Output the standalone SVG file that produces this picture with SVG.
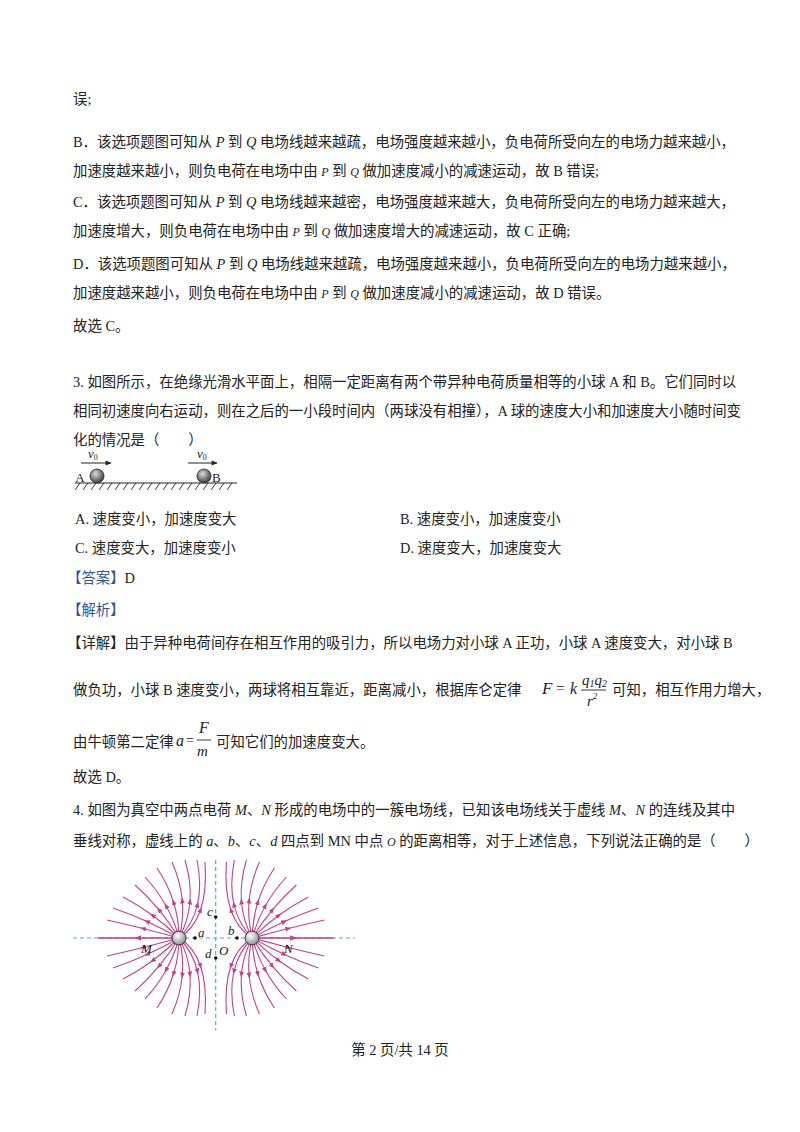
<svg xmlns="http://www.w3.org/2000/svg" xmlns:xlink="http://www.w3.org/1999/xlink" width="800" height="1132" viewBox="0 0 800 1132">
<style>
.t{font-family:"Liberation Serif","Noto Sans CJK SC",serif;font-size:14.4px;fill:#222}
.i{font-family:"Liberation Serif",serif;font-style:italic}
.blue{fill:#2f5597}
.fl{fill:none;stroke:#c2418a;stroke-width:1.1;marker-mid:url(#ah)}
.dash{stroke:#3bb8c8;stroke-width:1.2;stroke-dasharray:4,3}
.lab{font-family:"Liberation Serif",serif;font-style:italic;font-size:13px;fill:#222}
</style>
<defs>
<marker id="ah" viewBox="0 0 10 10" refX="5" refY="5" markerWidth="6" markerHeight="6" orient="auto" markerUnits="userSpaceOnUse"><path d="M0,1 L10,5 L0,9 z" fill="#c2418a"/></marker>
<marker id="arr" viewBox="0 0 10 10" refX="9" refY="5" markerWidth="7" markerHeight="6" orient="auto" markerUnits="userSpaceOnUse"><path d="M0,1 L10,5 L0,9 z" fill="#222"/></marker>
<radialGradient id="ball" cx="0.4" cy="0.35" r="0.7"><stop offset="0" stop-color="#fff"/><stop offset="1" stop-color="#888"/></radialGradient>
<radialGradient id="ball2" cx="0.4" cy="0.35" r="0.7"><stop offset="0" stop-color="#ddd"/><stop offset="1" stop-color="#333"/></radialGradient>
<g id="fl">
<path class="fl" d="M179,938 L138,938 L98,938"/>
<path class="fl" d="M179,938 Q161,933 143,928.5 Q125,924 107,920"/>
<path class="fl" d="M179,938 Q163.5,929 147,921.5 Q130.5,914 113,908"/>
<path class="fl" d="M179,938 Q166.5,925.5 152.5,915.3 Q138.5,905 123,897"/>
<path class="fl" d="M179,938 Q170,923 159,909.8 Q148,896.5 135,885"/>
<path class="fl" d="M179,938 Q174.5,921 166,905.8 Q157.5,890.5 145,877"/>
<path class="fl" d="M179,938 Q179,919.5 173.5,902 Q168,884.5 157,868"/>
<path class="fl" d="M179,938 Q184,919.5 182.3,900.5 Q180.5,881.5 172,862"/>
<path class="fl" d="M179,938 Q188.5,921 190,901.5 Q191.5,882 185,860"/>
<path class="fl" d="M179,938 Q193,924 197.5,904.5 Q202,885 197,860"/>
<path class="fl" d="M179,938 Q194,929 200.5,910 Q207,891 205,862"/>
</g>
</defs>

<g id="text">
<text class="t" x="73" y="104">误;</text>
<text class="t" x="73" y="147">B．该选项题图可知从 <tspan class="i">P</tspan> 到 <tspan class="i">Q</tspan> 电场线越来越疏，电场强度越来越小，负电荷所受向左的电场力越来越小，</text>
<text class="t" x="73" y="176">加速度越来越小，则负电荷在电场中由 <tspan class="i" font-size="12">P</tspan> 到 <tspan class="i" font-size="12">Q</tspan> 做加速度减小的减速运动，故 B 错误;</text>
<text class="t" x="73" y="207">C．该选项题图可知从 <tspan class="i">P</tspan> 到 <tspan class="i">Q</tspan> 电场线越来越密，电场强度越来越大，负电荷所受向左的电场力越来越大，</text>
<text class="t" x="73" y="236">加速度增大，则负电荷在电场中由 <tspan class="i" font-size="12">P</tspan> 到 <tspan class="i" font-size="12">Q</tspan> 做加速度增大的减速运动，故 C 正确;</text>
<text class="t" x="73" y="269">D．该选项题图可知从 <tspan class="i">P</tspan> 到 <tspan class="i">Q</tspan> 电场线越来越疏，电场强度越来越小，负电荷所受向左的电场力越来越小，</text>
<text class="t" x="73" y="298">加速度越来越小，则负电荷在电场中由 <tspan class="i" font-size="12">P</tspan> 到 <tspan class="i" font-size="12">Q</tspan> 做加速度减小的减速运动，故 D 错误。</text>
<text class="t" x="73" y="331">故选 C。</text>
<text class="t" x="73" y="387">3. 如图所示，在绝缘光滑水平面上，相隔一定距离有两个带异种电荷质量相等的小球 A 和 B。它们同时以</text>
<text class="t" x="73" y="416">相同初速度向右运动，则在之后的一小段时间内（两球没有相撞），A 球的速度大小和加速度大小随时间变</text>
<text class="t" x="73" y="445">化的情况是（　　）</text>
<text class="t" x="75" y="524">A.  速度变小，加速度变大</text>
<text class="t" x="400" y="524">B.  速度变小，加速度变小</text>
<text class="t" x="75" y="553">C.  速度变大，加速度变小</text>
<text class="t" x="400" y="553">D.  速度变大，加速度变大</text>
<text class="t" x="67" y="583"><tspan class="blue">【答案】</tspan>D</text>
<text class="t" x="67" y="615"><tspan class="blue">【解析】</tspan></text>
<text class="t" x="67" y="648">【详解】由于异种电荷间存在相互作用的吸引力，所以电场力对小球 A 正功，小球 A 速度变大，对小球 B</text>
<text class="t" x="73" y="695">做负功，小球 B 速度变小，两球将相互靠近，距离减小，根据库仑定律</text>
<text class="i" x="542" y="694" font-size="17" fill="#222">F</text>
<text x="556" y="693" font-size="15" fill="#222" font-family="Liberation Serif,serif">=</text>
<text class="i" x="570" y="694" font-size="16" fill="#222">k</text>
<text class="i" x="582" y="685" font-size="15" fill="#222">q<tspan font-size="10" dy="2">1</tspan><tspan dy="-2">q</tspan><tspan font-size="10" dy="2">2</tspan></text>
<line x1="581" y1="690" x2="606" y2="690" stroke="#222" stroke-width="0.9"/>
<text class="i" x="587" y="706" font-size="15" fill="#222">r<tspan font-size="9" dy="-7">2</tspan></text>
<text class="t" x="612" y="695">可知，相互作用力增大，</text>
<text class="t" x="73" y="747">由牛顿第二定律</text>
<text class="i" x="176" y="746" font-size="16" fill="#222">a</text>
<text x="186" y="745" font-size="14" fill="#222" font-family="Liberation Serif,serif">=</text>
<text class="i" x="199" y="733" font-size="16" fill="#222">F</text>
<line x1="197" y1="740" x2="211" y2="740" stroke="#222" stroke-width="0.9"/>
<text class="i" x="197" y="756" font-size="15" fill="#222">m</text>
<text class="t" x="216" y="747">可知它们的加速度变大。</text>
<text class="t" x="73" y="782">故选 D。</text>
<text class="t" x="73" y="815">4. 如图为真空中两点电荷 <tspan class="i">M</tspan>、<tspan class="i">N</tspan> 形成的电场中的一簇电场线，已知该电场线关于虚线 <tspan class="i">M</tspan>、<tspan class="i">N</tspan> 的连线及其中</text>
<text class="t" x="73" y="846">垂线对称，虚线上的 <tspan class="i">a</tspan>、<tspan class="i">b</tspan>、<tspan class="i">c</tspan>、<tspan class="i">d</tspan> 四点到 MN 中点 <tspan class="i" font-size="12">O</tspan>  的距离相等，对于上述信息，下列说法正确的是（　　）</text>
<text class="t" x="400" y="1055" text-anchor="middle">第 2 页/共 14 页</text>
</g>

<g id="fig3">
<line x1="75" y1="483" x2="237" y2="483" stroke="#222" stroke-width="1.2"/>
<path d="M80,483 l-5,7 M88,483 l-5,7 M96,483 l-5,7 M104,483 l-5,7 M112,483 l-5,7 M120,483 l-5,7 M128,483 l-5,7 M136,483 l-5,7 M144,483 l-5,7 M152,483 l-5,7 M160,483 l-5,7 M168,483 l-5,7 M176,483 l-5,7 M184,483 l-5,7 M192,483 l-5,7 M200,483 l-5,7 M208,483 l-5,7 M216,483 l-5,7 M224,483 l-5,7 M232,483 l-5,7" stroke="#222" stroke-width="0.9"/>
<circle cx="97" cy="476" r="7" fill="url(#ball2)" stroke="#222" stroke-width="0.8"/>
<circle cx="204" cy="476" r="7" fill="url(#ball2)" stroke="#222" stroke-width="0.8"/>
<text x="80" y="482" font-family="Liberation Serif,serif" font-size="13" fill="#222" text-anchor="middle">A</text>
<text x="212" y="482" font-family="Liberation Serif,serif" font-size="13" fill="#222">B</text>
<line x1="81" y1="463" x2="111" y2="463" stroke="#222" stroke-width="1" marker-end="url(#arr)"/>
<line x1="188" y1="463" x2="217" y2="463" stroke="#222" stroke-width="1" marker-end="url(#arr)"/>
<text class="lab" x="88" y="458">v<tspan font-size="8" font-style="normal" dy="2">0</tspan></text>
<text class="lab" x="197" y="458">v<tspan font-size="8" font-style="normal" dy="2">0</tspan></text>
</g>

<g id="fig4">
<line class="dash" x1="73" y1="938" x2="355" y2="938"/>
<line class="dash" x1="215.7" y1="860" x2="215.7" y2="1030"/>
<use xlink:href="#fl"/>
<use xlink:href="#fl" transform="translate(0,1876) scale(1,-1)"/>
<use xlink:href="#fl" transform="translate(431.4,0) scale(-1,1)"/>
<use xlink:href="#fl" transform="translate(431.4,1876) scale(-1,-1)"/>
<circle cx="179" cy="938" r="7" fill="url(#ball)" stroke="#333" stroke-width="1"/>
<circle cx="252" cy="938" r="7" fill="url(#ball)" stroke="#333" stroke-width="1"/>
<circle cx="195" cy="938" r="1.8" fill="#111"/>
<circle cx="237" cy="938" r="1.8" fill="#111"/>
<circle cx="215.7" cy="917" r="1.8" fill="#111"/>
<circle cx="215.7" cy="958" r="1.8" fill="#111"/>
<text class="lab" x="141" y="953">M</text>
<text class="lab" x="284" y="953">N</text>
<text class="lab" x="198" y="937">a</text>
<text class="lab" x="228" y="935">b</text>
<text class="lab" x="207" y="916">c</text>
<text class="lab" x="205" y="958">d</text>
<text class="lab" x="219" y="955" font-style="normal">O</text>
</g>
</svg>
